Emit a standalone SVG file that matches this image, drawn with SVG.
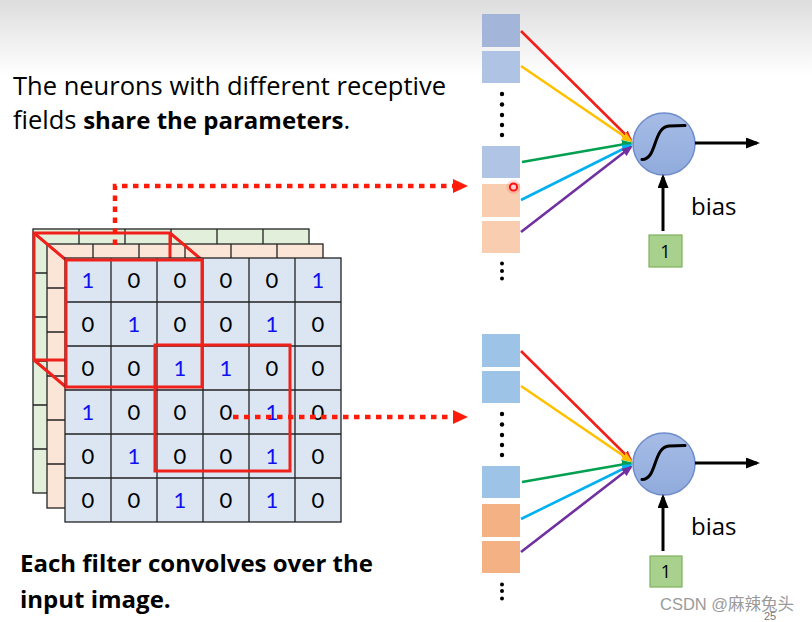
<svg xmlns="http://www.w3.org/2000/svg" width="812" height="622" viewBox="0 0 812 622">
<style>
.t{font-family:"Open Sans",Lato,sans-serif;fill:#000;font-variant-ligatures:none}
.d{font-family:Lato,"Liberation Sans",sans-serif;font-size:22px;text-anchor:middle}
.k{fill:#000}
.b{fill:#1010f0}
.cell{stroke:#222;stroke-width:1.3}
.g{fill:#e2efda}
.o{fill:#fbe5d6}
.f{fill:#dce6f3}
.red{fill:none;stroke:#f0201a;stroke-width:3}
.dot{fill:none;stroke:#ff1a0a;stroke-width:4.5;stroke-dasharray:5.5 5.5}
.w{fill:none;stroke-width:2.6}
.blk{fill:none;stroke:#000;stroke-width:3}
.neu{fill:url(#ng);stroke:#6f8ccb;stroke-width:1.5}
.sig{fill:none;stroke:#000;stroke-width:3;stroke-linecap:round}
.one{fill:#a9d18e;stroke:#7fb15e;stroke-width:1.2}
.vd{fill:#000}
</style>
<defs>
<linearGradient id="bgg" x1="0" y1="0" x2="0" y2="1">
<stop offset="0" stop-color="#dddddd"/>
<stop offset="1" stop-color="#ffffff"/>
</linearGradient>
<linearGradient id="ng" x1="0" y1="0" x2="0" y2="1">
<stop offset="0" stop-color="#a6bce6"/>
<stop offset="1" stop-color="#90abdc"/>
</linearGradient>
<marker id="mr" markerUnits="userSpaceOnUse" markerWidth="11" markerHeight="9" refX="9" refY="4.5" orient="auto"><path d="M0,0 L11,4.5 L0,9 z" fill="#f0201a"/></marker>
<marker id="my" markerUnits="userSpaceOnUse" markerWidth="11" markerHeight="9" refX="9" refY="4.5" orient="auto"><path d="M0,0 L11,4.5 L0,9 z" fill="#ffc000"/></marker>
<marker id="mg" markerUnits="userSpaceOnUse" markerWidth="11" markerHeight="9" refX="9" refY="4.5" orient="auto"><path d="M0,0 L11,4.5 L0,9 z" fill="#00a050"/></marker>
<marker id="mc" markerUnits="userSpaceOnUse" markerWidth="11" markerHeight="9" refX="9" refY="4.5" orient="auto"><path d="M0,0 L11,4.5 L0,9 z" fill="#00b0f0"/></marker>
<marker id="mp" markerUnits="userSpaceOnUse" markerWidth="11" markerHeight="9" refX="9" refY="4.5" orient="auto"><path d="M0,0 L11,4.5 L0,9 z" fill="#7030a0"/></marker>
<marker id="mk" markerUnits="userSpaceOnUse" markerWidth="14" markerHeight="11" refX="11" refY="5.5" orient="auto"><path d="M0,0 L14,5.5 L0,11 z" fill="#000"/></marker>
<marker id="md" markerUnits="userSpaceOnUse" markerWidth="15" markerHeight="14" refX="0" refY="7" orient="auto"><path d="M0,0 L15,7 L0,14 z" fill="#ff1a0a"/></marker>
</defs>

<g id="background">
<rect x="0" y="0" width="812" height="622" fill="#fff"/>
<rect x="0" y="0" width="812" height="75" fill="url(#bgg)"/>
</g>

<g id="caption-top">
<text class="t" x="13" y="95" font-size="25.5">The neurons with different receptive</text>
<text class="t" x="13" y="129" font-size="25.5">fields <tspan font-weight="bold" font-size="24">share the parameters</tspan>.</text>
</g>

<g id="caption-bottom">
<text class="t" x="20" y="572" font-size="24" font-weight="bold">Each filter convolves over the</text>
<text class="t" x="20" y="608" font-size="24" font-weight="bold">input image.</text>
</g>

<g id="grid-green">
<rect class="cell g" x="33" y="229" width="276" height="264"/>
<path class="cell" d="M79,229V493M125,229V493M171,229V493M217,229V493M263,229V493M33,273H309M33,317H309M33,361H309M33,405H309M33,449H309"/>
<text class="d b" x="56" y="259">1</text><text class="d k" x="102" y="259">0</text><text class="d k" x="148" y="259">0</text><text class="d k" x="194" y="259">0</text><text class="d k" x="240" y="259">0</text><text class="d b" x="286" y="259">1</text>
</g>

<g id="grid-orange">
<rect class="cell o" x="47" y="244" width="276" height="264"/>
<path class="cell" d="M93,244V508M139,244V508M185,244V508M231,244V508M277,244V508M47,288H323M47,332H323M47,376H323M47,420H323M47,464H323"/>
</g>

<g id="filter-1-back">
<rect class="red" x="34" y="233" width="136" height="127"/>
<path class="red" d="M34,233L66,260M170,233L202,260M34,360L66,387"/>
</g>

<g id="grid-front">
<rect class="cell f" x="65" y="258" width="276" height="264"/>
<path class="cell" d="M111,258V522M157,258V522M203,258V522M249,258V522M295,258V522M65,302H341M65,346H341M65,390H341M65,434H341M65,478H341"/>
<text class="d b" x="88" y="288">1</text><text class="d k" x="134" y="288">0</text><text class="d k" x="180" y="288">0</text><text class="d k" x="226" y="288">0</text><text class="d k" x="272" y="288">0</text><text class="d b" x="318" y="288">1</text>
<text class="d k" x="88" y="332">0</text><text class="d b" x="134" y="332">1</text><text class="d k" x="180" y="332">0</text><text class="d k" x="226" y="332">0</text><text class="d b" x="272" y="332">1</text><text class="d k" x="318" y="332">0</text>
<text class="d k" x="88" y="376">0</text><text class="d k" x="134" y="376">0</text><text class="d b" x="180" y="376">1</text><text class="d b" x="226" y="376">1</text><text class="d k" x="272" y="376">0</text><text class="d k" x="318" y="376">0</text>
<text class="d b" x="88" y="420">1</text><text class="d k" x="134" y="420">0</text><text class="d k" x="180" y="420">0</text><text class="d k" x="226" y="420">0</text><text class="d b" x="272" y="420">1</text><text class="d k" x="318" y="420">0</text>
<text class="d k" x="88" y="464">0</text><text class="d b" x="134" y="464">1</text><text class="d k" x="180" y="464">0</text><text class="d k" x="226" y="464">0</text><text class="d b" x="272" y="464">1</text><text class="d k" x="318" y="464">0</text>
<text class="d k" x="88" y="508">0</text><text class="d k" x="134" y="508">0</text><text class="d b" x="180" y="508">1</text><text class="d k" x="226" y="508">0</text><text class="d b" x="272" y="508">1</text><text class="d k" x="318" y="508">0</text>
</g>

<g id="filter-1-front">
<rect class="red" x="66" y="260" width="136" height="127"/>
</g>
<g id="filter-2">
<rect class="red" x="155" y="345" width="135" height="126"/>
</g>

<g id="inputs-top">
<rect x="482" y="14" width="38" height="33" fill="#a3b6d9"/>
<rect x="482" y="51" width="38" height="32" fill="#afc3e5"/>
<circle class="vd" cx="502" cy="94" r="2.2"/><circle class="vd" cx="502" cy="104.5" r="2.2"/><circle class="vd" cx="502" cy="115" r="2.2"/><circle class="vd" cx="502" cy="125" r="2.2"/><circle class="vd" cx="502" cy="135" r="2.2"/>
<rect x="482" y="146" width="38" height="32" fill="#b0c4e6"/>
<rect x="482" y="184" width="38" height="33" fill="#f8cdb0"/>
<rect x="482" y="221" width="38" height="32" fill="#f8cdb0"/>
<circle class="vd" cx="502" cy="263.5" r="2"/><circle class="vd" cx="502" cy="271" r="2"/><circle class="vd" cx="502" cy="278.5" r="2"/>
</g>

<g id="cursor">
<circle cx="513.5" cy="187" r="7" fill="#ff4040" opacity="0.18"/>
<circle cx="513.5" cy="187" r="3.6" fill="#ffd0d0" stroke="#ff1010" stroke-width="2"/>
</g>

<g id="neuron-top">
<circle class="neu" cx="664" cy="144" r="31"/>
<path class="sig" d="M642,159.5 C657,160 653,127 669,126 L685,125.5"/>
</g>
<g id="bias-top">
<rect class="one" x="649" y="235" width="33" height="32"/>
<text class="t" x="665.5" y="258" font-size="18" text-anchor="middle">1</text>
<text class="t" x="691" y="215" font-size="24">bias</text>
</g>

<g id="inputs-bottom">
<rect x="482" y="334" width="38" height="33" fill="#9dc3e6"/>
<rect x="482" y="371" width="38" height="32" fill="#9dc3e6"/>
<circle class="vd" cx="502" cy="414" r="2.2"/><circle class="vd" cx="502" cy="424.5" r="2.2"/><circle class="vd" cx="502" cy="435" r="2.2"/><circle class="vd" cx="502" cy="445" r="2.2"/><circle class="vd" cx="502" cy="455" r="2.2"/>
<rect x="482" y="466" width="38" height="32" fill="#9dc3e6"/>
<rect x="482" y="504" width="38" height="33" fill="#f4b183"/>
<rect x="482" y="541" width="38" height="32" fill="#f4b183"/>
<circle class="vd" cx="502" cy="584.5" r="2"/><circle class="vd" cx="502" cy="591" r="2"/><circle class="vd" cx="502" cy="598.5" r="2"/>
</g>

<g id="neuron-bottom">
<circle class="neu" cx="664" cy="464" r="31"/>
<path class="sig" d="M642,479.5 C657,480 653,447 669,446 L685,445.5"/>
</g>
<g id="bias-bottom">
<rect class="one" x="650" y="556" width="32" height="31"/>
<text class="t" x="666" y="578" font-size="18" text-anchor="middle">1</text>
<text class="t" x="691" y="535" font-size="24">bias</text>
</g>

<g id="connectors">
<path class="dot" d="M115,245V186H453" marker-end="url(#md)"/>
<path class="dot" d="M233,417H453" marker-end="url(#md)"/>
<path class="w" stroke="#f0201a" d="M521,31L631,140" marker-end="url(#mr)"/>
<path class="w" stroke="#ffc000" d="M521,66L631,141" marker-end="url(#my)"/>
<path class="w" stroke="#00a050" d="M522,162L631,143" marker-end="url(#mg)"/>
<path class="w" stroke="#00b0f0" d="M521,200L631,145" marker-end="url(#mc)"/>
<path class="w" stroke="#7030a0" d="M521,232L631,147" marker-end="url(#mp)"/>
<path class="blk" d="M695,143H757" marker-end="url(#mk)"/>
<path class="blk" d="M663,231V177" marker-end="url(#mk)"/>
<path class="w" stroke="#f0201a" d="M521,351L631,460" marker-end="url(#mr)"/>
<path class="w" stroke="#ffc000" d="M521,386L631,461" marker-end="url(#my)"/>
<path class="w" stroke="#00a050" d="M522,482L631,463" marker-end="url(#mg)"/>
<path class="w" stroke="#00b0f0" d="M521,519L631,465" marker-end="url(#mc)"/>
<path class="w" stroke="#7030a0" d="M521,552L631,467" marker-end="url(#mp)"/>
<path class="blk" d="M695,463H757" marker-end="url(#mk)"/>
<path class="blk" d="M663,551V497" marker-end="url(#mk)"/>
</g>

<g id="watermark">
<text x="660" y="610" font-size="16.5" fill="#9a9a9a" font-family="'Liberation Sans','Noto Sans CJK SC',sans-serif">CSDN @麻辣兔头</text>
<text x="764" y="620" font-size="11" fill="#777" font-family="'Liberation Sans',sans-serif">25</text>
</g>
</svg>
